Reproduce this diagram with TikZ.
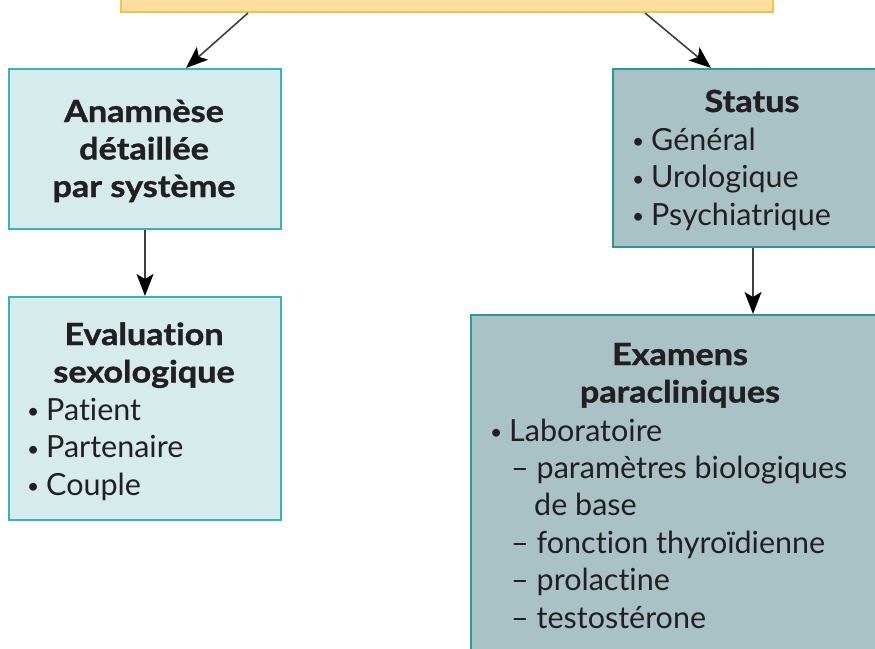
\documentclass[tikz,border=0pt]{standalone}
\usepackage{fontspec}
\setmainfont{Lato}[Ligatures={TeX,NoCommon}, BoldFeatures={FakeStretch=1.12, FakeBold=1.2}]
\usetikzlibrary{arrows.meta, positioning}
\definecolor{topfill}{HTML}{FCDFA0}
\definecolor{topline}{HTML}{F6C244}
\definecolor{lightfill}{HTML}{D5EBEC}
\definecolor{lightline}{HTML}{3AB3B7}
\definecolor{darkfill}{HTML}{A9C2C6}
\definecolor{darkline}{HTML}{2D9899}
\definecolor{ink}{HTML}{231F20}
\newcommand\bigfont{\fontsize{30.5}{36}\selectfont}
\newcommand\pt{\makebox[19pt][l]{\raisebox{1.5pt}{\fontsize{21}{21}\selectfont\textbullet}}}
\tikzset{lightbox/.style={draw=lightline, fill=lightfill, line width=2pt, anchor=north west, inner sep=0}}
\tikzset{darkbox/.style={draw=darkline, fill=darkfill, line width=2pt, anchor=north west, inner sep=0}}
\tikzset{head/.style={inner sep=0, anchor=base, text=ink, font=\bigfont\bfseries}}
\tikzset{item/.style={inner sep=0, anchor=base west, text=ink, font=\bigfont}}
\tikzset{link/.style={draw=black!75, line width=1.6pt, -{Stealth[length=22pt, width=17pt, inset=5pt, color=black]}}}

\begin{document}
\begin{tikzpicture}[x=1pt, y=-1pt]
            \useasboundingbox (0,0) rectangle (875,648);
            \clip (0,0) rectangle (875,648);
            % boxes
            \node[draw=topline, fill=topfill, line width=2pt, anchor=south west, minimum width=652pt, minimum height=60pt] (top) at (120,13) {};
            \node[lightbox, minimum width=272pt, minimum height=160pt] (anam) at (8,68) {};
            \node[lightbox, minimum width=272pt, minimum height=223pt] (eval) at (8,296) {};
            \node[darkbox, minimum width=280pt, minimum height=178pt] (stat) at (612,68) {};
            \node[darkbox, minimum width=420pt, minimum height=360pt] (exam) at (470,314) {};
            % texts
            \foreach \t [count=\i from 0] in {Anamnèse, détaillée, par système}
                \node[head] (anam\i) at (144, 122+37.5*\i) {\t};
            \foreach \t [count=\i from 0] in {Evaluation, sexologique}
                \node[head] (evalh\i) at (144, 345+37.5*\i) {\t};
            \foreach \t [count=\i from 0] in {Patient, Partenaire, Couple}
                \node[item] (evali\i) at (27, 420+37.5*\i) {\pt\t};
            \node[head] (stath) at (752, 112) {Status};
            \foreach \t [count=\i from 0] in {Général, Urologique, Psychiatrique}
                \node[item] (stati\i) at (632, 150+37.5*\i) {\pt\t};
            \foreach \t [count=\i from 0] in {Examens, paracliniques}
                \node[head] (examh\i) at (680, 365+37.5*\i) {\t};
            \node[item] (labo) at (490, 441) {\pt Laboratoire};
            \node[item] (sub0) at (511, 478) {– paramètres biologiques};
            \node[item] (sub1) at (534, 515) {de base};
            \foreach \t [count=\i from 2] in {fonction thyroïdienne, prolactine, testostérone}
                \node[item] (sub\i) at (511, 553+37.5*\i-75) {– \t};
            % arrows
            \draw[link] ([xshift=128pt]top.south west) -- ([xshift=41pt]anam.north);
            \draw[link] ([xshift=-129pt]top.south east) -- ([xshift=-42pt]stat.north);
            \draw[link] (anam.south) -- (eval.north);
            \draw[link] (stat.south) -- (stat.south |- exam.north);
        \end{tikzpicture}
\end{document}
